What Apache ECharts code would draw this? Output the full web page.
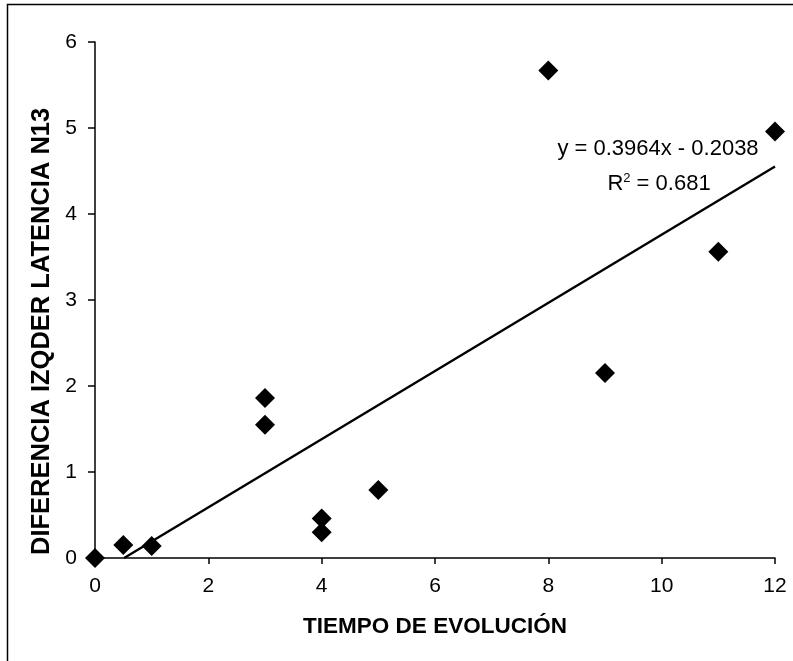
<!DOCTYPE html>
<html>
<head>
<meta charset="utf-8">
<script src="https://cdn.jsdelivr.net/npm/echarts@6/dist/echarts.min.js"></script>
<style>
html,body{margin:0;padding:0;background:#fff;}
#chart{width:793px;height:661px;}
</style>
</head>
<body>
<div id="chart"></div>
<script>
// Data
const xValues = [0, 0.5, 1, 3, 3, 4, 4, 5, 8, 9, 11, 12];
const yValues = [0, 0.15, 0.14, 1.86, 1.55, 0.46, 0.3, 0.79, 5.67, 2.15, 3.56, 4.96];
const xTicks = [0, 2, 4, 6, 8, 10, 12];
const yTicks = [0, 1, 2, 3, 4, 5, 6];
const trendSlope = 0.3964;
const trendIntercept = -0.2038;
const rSquared = 0.681;
const xTitle = 'TIEMPO DE EVOLUCIÓN';
const yTitle = 'DIFERENCIA IZQDER LATENCIA N13';

const points = xValues.map((x, i) => [x, yValues[i]]);
const xStart = -trendIntercept / trendSlope;
const xEnd = xTicks[xTicks.length - 1];
const trendData = [[xStart, trendSlope * xStart + trendIntercept], [xEnd, trendSlope * xEnd + trendIntercept]];

const FONT = '"Liberation Sans", Arial, sans-serif';
const chart = echarts.init(document.getElementById('chart'), null, {renderer: 'canvas'});
chart.setOption({
  backgroundColor: '#fff',
  animation: false,
  grid: {left: 95, top: 42, right: 18, bottom: 103, containLabel: false},
  xAxis: {
    type: 'value', min: xTicks[0], max: xTicks[xTicks.length - 1], interval: 2,
    name: xTitle, nameLocation: 'middle', nameGap: 57,
    nameTextStyle: {fontFamily: FONT, fontWeight: 'bold', fontSize: 22.5, color: '#000'},
    axisLine: {show: true, onZero: false, lineStyle: {color: '#000', width: 1.5}},
    axisTick: {show: true, inside: false, length: 6, lineStyle: {color: '#000', width: 1.5}},
    axisLabel: {fontFamily: FONT, fontSize: 21, color: '#000', margin: 18},
    splitLine: {show: false}
  },
  yAxis: {
    type: 'value', min: yTicks[0], max: yTicks[yTicks.length - 1], interval: 1,
    axisLine: {show: true, onZero: false, lineStyle: {color: '#000', width: 1.5}},
    axisTick: {show: true, inside: false, length: 7, lineStyle: {color: '#000', width: 1.5}},
    axisLabel: {fontFamily: FONT, fontSize: 21, color: '#000', margin: 18},
    splitLine: {show: false}
  },
  graphic: [
    {type: 'rect', shape: {x: 7.5, y: 4.5, width: 820, height: 700}, style: {fill: 'none', stroke: '#000', lineWidth: 1.5}, z: 100},
    {type: 'text', x: 42, y: 555, rotation: Math.PI / 2,
      style: {text: yTitle, fontFamily: FONT, fontWeight: 'bold', fontSize: 25.5, fill: '#000', align: 'left', verticalAlign: 'middle'}},
    {type: 'text', x: 658, y: 149,
      style: {text: 'y = ' + trendSlope + 'x - ' + Math.abs(trendIntercept), fontFamily: FONT, fontSize: 22, fill: '#000', align: 'center', verticalAlign: 'middle'}},
    {type: 'text', x: 659, y: 184,
      style: {text: '{r|R}{s|2}{r| = ' + rSquared + '}', fontFamily: FONT, fontSize: 22, fill: '#000', align: 'center', verticalAlign: 'middle',
        rich: {r: {fontFamily: FONT, fontSize: 22, fill: '#000'}, s: {fontFamily: FONT, fontSize: 13, fill: '#000', verticalAlign: 'top', padding: [0, 0, 12, 0]}}}}
  ],
  series: [
    {type: 'line', data: trendData, symbol: 'none', lineStyle: {color: '#000', width: 2.4}, z: 2, silent: true},
    {type: 'scatter', data: points, symbol: 'diamond', symbolSize: 20, itemStyle: {color: '#000', opacity: 1}, z: 3}
  ]
});
</script>
</body>
</html>
